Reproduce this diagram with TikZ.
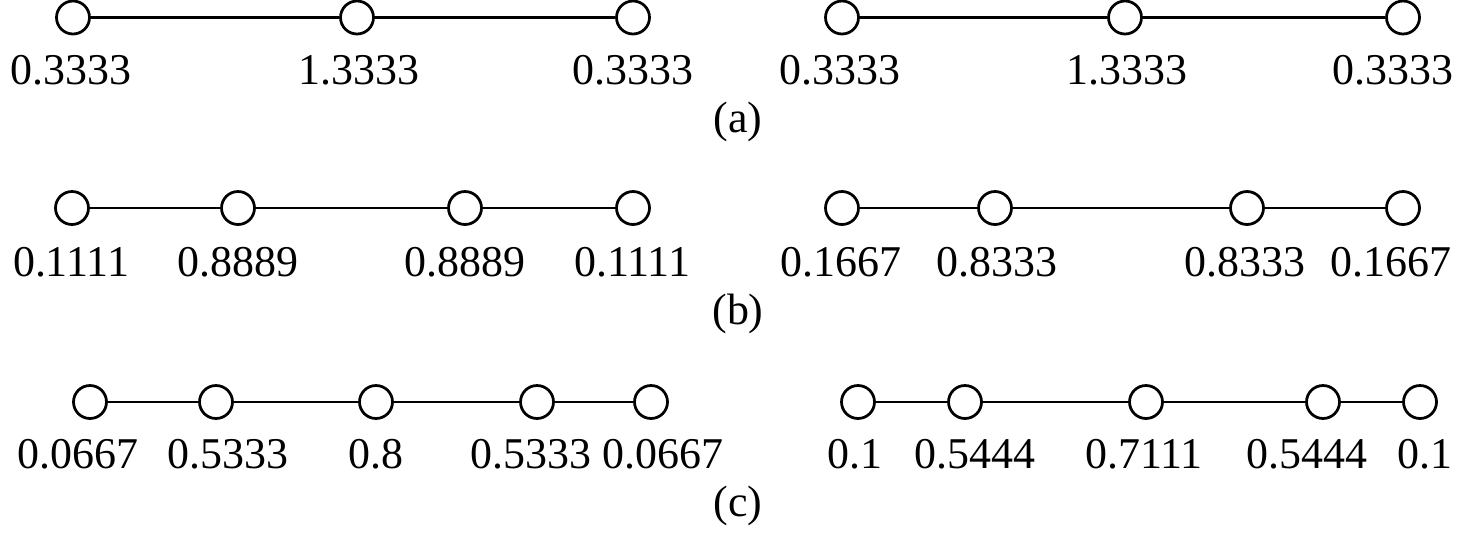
\documentclass[tikz,border=0pt]{standalone}
\usepackage{fontspec}
\setmainfont{Liberation Serif}
\begin{document}
\begin{tikzpicture}[x=0.02cm,y=-0.02cm,
  vtx/.style={circle,draw=black,line width=0.055cm,fill=white,inner sep=0pt,minimum size=0.66cm},
  edge/.style={line width=0.055cm},
  lbl/.style={anchor=base,inner sep=0pt,font=\fontsize{25}{30}\selectfont},
  captext/.style={anchor=base,inner sep=0pt,font=\fontsize{25}{30}\selectfont}]
\useasboundingbox (0,0) rectangle (1476,541);
% row a
\foreach \x [count=\i] in {73,357,633} \node[vtx] (aL\i) at (\x,17.5) {};
\foreach \x [count=\i] in {842,1125,1403} \node[vtx] (aR\i) at (\x,17.5) {};
\draw[edge] (aL1) -- (aL2) (aL2) -- (aL3);
\draw[edge] (aR1) -- (aR2) (aR2) -- (aR3);
\foreach \x/\t [count=\i] in {71/0.3333,359/1.3333,633/0.3333} \node[lbl] (laL\i) at (\x,84) {\t};
\foreach \x/\t [count=\i] in {840/0.3333,1127/1.3333,1393/0.3333} \node[lbl] (laR\i) at (\x,84) {\t};
\node[captext] (capa) at (738,132) {(a)};
% row b
\foreach \x [count=\i] in {72,238,465,633} \node[vtx] (bL\i) at (\x,208) {};
\foreach \x [count=\i] in {842,995,1247,1403} \node[vtx] (bR\i) at (\x,208) {};
\draw[edge] (bL1) -- (bL2) (bL2) -- (bL3) (bL3) -- (bL4);
\draw[edge] (bR1) -- (bR2) (bR2) -- (bR3) (bR3) -- (bR4);
\foreach \x/\t [count=\i] in {71/0.1111,238/0.8889,465/0.8889,632/0.1111} \node[lbl] (lbL\i) at (\x,276) {\t};
\foreach \x/\t [count=\i] in {841/0.1667,997/0.8333,1245/0.8333,1391/0.1667} \node[lbl] (lbR\i) at (\x,276) {\t};
\node[captext] (capb) at (738,324) {(b)};
% row c
\foreach \x [count=\i] in {90,216,376,537,651} \node[vtx] (cL\i) at (\x,402) {};
\foreach \x [count=\i] in {858,965,1146,1323,1420} \node[vtx] (cR\i) at (\x,402) {};
\draw[edge] (cL1) -- (cL2) (cL2) -- (cL3) (cL3) -- (cL4) (cL4) -- (cL5);
\draw[edge] (cR1) -- (cR2) (cR2) -- (cR3) (cR3) -- (cR4) (cR4) -- (cR5);
\foreach \x/\t [count=\i] in {78/0.0667,228/0.5333,376/0.8,531/0.5333,663/0.0667} \node[lbl] (lcL\i) at (\x,468) {\t};
\foreach \x/\t [count=\i] in {855/0.1,975/0.5444,1144/0.7111,1307/0.5444,1425/0.1} \node[lbl] (lcR\i) at (\x,468) {\t};
\node[captext] (capc) at (738,516) {(c)};
\end{tikzpicture}
\end{document}
